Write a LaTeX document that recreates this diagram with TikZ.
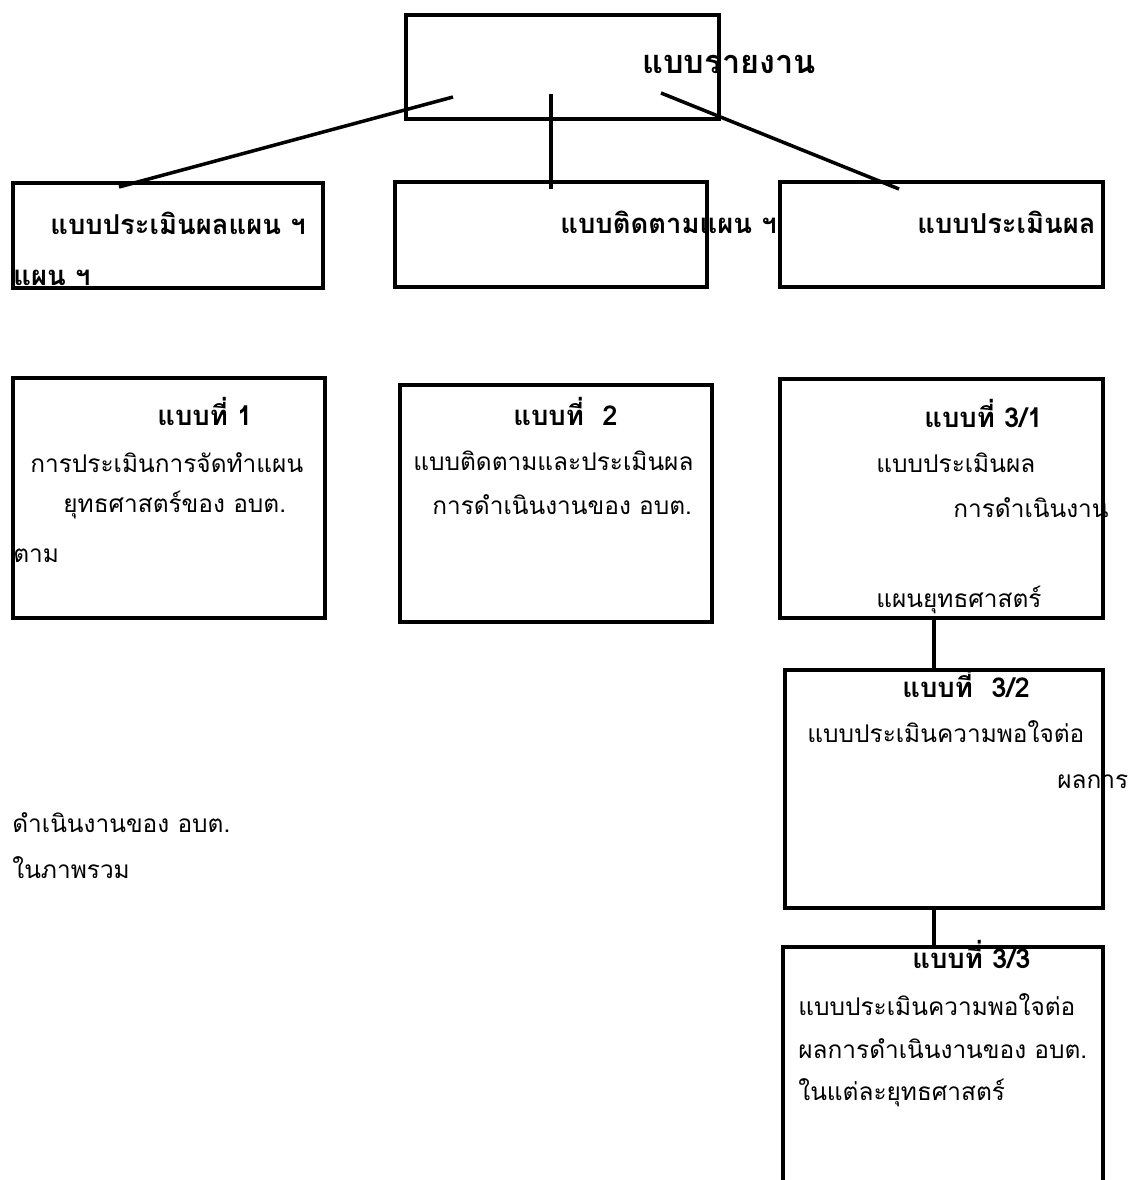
\documentclass[tikz,border=0pt]{standalone}
\usepackage{fontspec}
\newfontfamily\thaifont[Script=Thai]{Loma}
\usetikzlibrary{fit}

\tikzset{
    box/.style={draw, line width=2pt, inner sep=0pt},
    link/.style={line width=2pt},
    txt/.style={anchor=base west, inner sep=0pt, font=\thaifont\fontsize{13.9}{17}\selectfont},
    hd/.style={txt, font=\thaifont\bfseries\fontsize{15.6}{19}\selectfont},
    title/.style={txt, font=\thaifont\bfseries\fontsize{18.5}{22}\selectfont}
}

\begin{document}
\begin{tikzpicture}[x=0.02cm, y=-0.02cm]
    \clip (0,0) rectangle (1128,1180);
    \fill[white] (0,0) rectangle (1128,1180);

    \node[box, fit={(406,15) (719,119)}] (report) {};
    \node[box, fit={(13,183) (323,288)}] (planA) {};
    \node[box, fit={(395,182) (707,287)}] (planB) {};
    \node[box, fit={(780,182) (1103,287)}] (planC) {};
    \node[box, fit={(13,378) (325,618)}] (f1) {};
    \node[box, fit={(400,385) (712,622)}] (f2) {};
    \node[box, fit={(780,379) (1103,618)}] (f31) {};
    \node[box, fit={(785,670) (1103,908)}] (f32) {};
    \node[box, fit={(783,947) (1103,1200)}] (f33) {};

    \node[title] (tReport) at (642,73) {แบบรายงาน};
    \node[hd] (tA) at (50,234) {แบบประเมินผลแผน ฯ};
    \node[hd] (tA2) at (13,285) {แผน ฯ};
    \node[hd] (tB) at (560,233) {แบบติดตามแผน ฯ};
    \node[hd] (tC) at (917,233) {แบบประเมินผล};

    \node[hd] (h1) at (157,425) {แบบที่ 1};
    \node[txt] (l1a) at (30,472) {การประเมินการจัดทำแผน};
    \node[txt] (l1b) at (63,512) {ยุทธศาสตร์ของ อบต.};
    \node[txt] (l1c) at (13,562) {ตาม};

    \node[hd] (h2) at (513,425) {แบบที่ \ 2};
    \node[txt] (l2a) at (413,470) {แบบติดตามและประเมินผล};
    \node[txt] (l2b) at (432,514) {การดำเนินงานของ อบต.};

    \node[hd] (h31) at (924,427) {แบบที่ 3/1};
    \node[txt] (l31a) at (876,472) {แบบประเมินผล};
    \node[txt] (l31b) at (953,517) {การดำเนินงาน};
    \node[txt] (l31c) at (876,607) {แผนยุทธศาสตร์};

    \node[hd] (h32) at (902,697) {แบบที่ \ 3/2};
    \node[txt] (l32a) at (807,742) {แบบประเมินความพอใจต่อ};
    \node[txt] (l32b) at (1057,788) {ผลการ};

    \node[txt] (lx1) at (12,832) {ดำเนินงานของ อบต.};
    \node[txt] (lx2) at (12,878) {ในภาพรวม};

    \node[hd] (h33) at (912,968) {แบบที่ 3/3};
    \node[txt] (l33a) at (798,1015) {แบบประเมินความพอใจต่อ};
    \node[txt] (l33b) at (798,1058) {ผลการดำเนินงานของ อบต.};
    \node[txt] (l33c) at (798,1100) {ในแต่ละยุทธศาสตร์};

    \coordinate (s1) at (453,97);
    \coordinate (s2) at (551,94);
    \coordinate (s3) at (661,93);
    \coordinate (e1) at (119,187);
    \coordinate (e2) at (551,189);
    \coordinate (e3) at (899,189);
    \coordinate (col) at (934,0);
    \draw[link] (s1) -- (e1);
    \draw[link] (s2) -- (e2);
    \draw[link] (s3) -- (e3);
    \draw[link] (f31.south -| col) -- (f32.north -| col);
    \draw[link] (f32.south -| col) -- (f33.north -| col);
\end{tikzpicture}
\end{document}
